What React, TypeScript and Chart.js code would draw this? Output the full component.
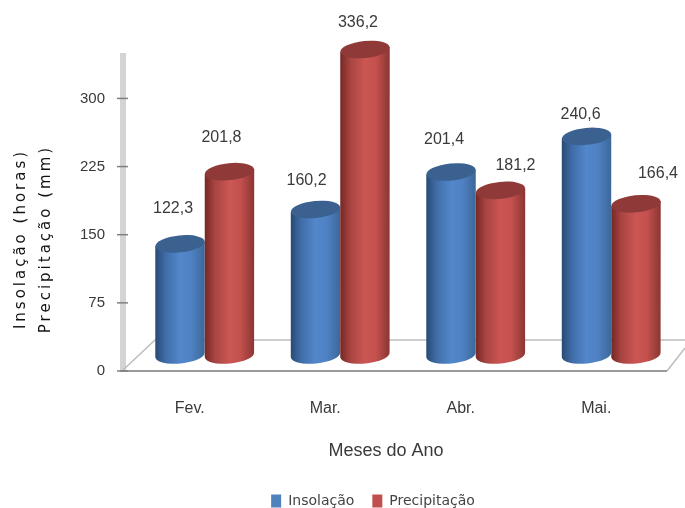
import React, { useEffect, useRef } from "react";
import { Chart, registerables } from "chart.js";

Chart.register(...registerables);

const months = ["Fev.", "Mar.", "Abr.", "Mai."];
const insolacao = [122.3, 160.2, 201.4, 240.6];
const precipitacao = [201.8, 336.2, 181.2, 166.4];
const yTicks = [0, 75, 150, 225, 300];
const yMax = 350;

// Hand-placed label nudges (dx, dy from the top of each cylinder).
const insolacaoNudge = [[-7, -35], [-9, -29], [-7, -32], [-6, -22]];
const precipitacaoNudge = [[-8, -34], [-7, -27], [15, -25], [22, -30]];

const depthX = 15;
const depthY = -16;
const capRy = 8.5;
const tilt = -0.1;

const palette = {
  blue: { stops: ["#274a73", "#3f6ca6", "#5287cb", "#4f82c4", "#3c6799"], cap: "#3b6191", flat: "#4f81bd" },
  red: { stops: ["#742825", "#a84441", "#cb5653", "#c4514e", "#8a3533"], cap: "#8f3a38", flat: "#c0504d" },
};

const fmt = (v: number) => v.toFixed(1).replace(".", ",");

// Floor, back wall and tick marks, then each bar element as a slanted cylinder.
const cylinders = {
  id: "cylinders",
  beforeDatasetsDraw(chart: any) {
    const { ctx, chartArea: a, scales } = chart;
    ctx.save();
    ctx.fillStyle = "#d4d4d4";
    ctx.fillRect(a.left - 2, a.top, 6, a.bottom - a.top);
    ctx.strokeStyle = "#bdbdbd";
    ctx.lineWidth = 1.5;
    ctx.beginPath();
    ctx.moveTo(a.left, a.bottom);
    ctx.lineTo(a.left + 33, a.bottom - 31);
    ctx.lineTo(a.right + 21, a.bottom - 31);
    ctx.moveTo(a.right + 3, a.bottom);
    ctx.lineTo(a.right + 21, a.bottom - 23);
    ctx.stroke();
    ctx.strokeStyle = "#9a9a9a";
    ctx.lineWidth = 2;
    ctx.beginPath();
    ctx.moveTo(a.left - 2, a.bottom);
    ctx.lineTo(a.right + 3, a.bottom);
    ctx.stroke();
    ctx.strokeStyle = "#808080";
    ctx.lineWidth = 1.5;
    yTicks.forEach((t) => {
      const py = scales.y.getPixelForValue(t);
      ctx.beginPath();
      ctx.moveTo(a.left - 5, py);
      ctx.lineTo(a.left + 6, py);
      ctx.stroke();
    });

    [palette.blue, palette.red].forEach((colors, d) => {
      chart.getDatasetMeta(d).data.forEach((bar: any) => {
        const { x, y, base, width } = bar.getProps(["x", "y", "base", "width"], true);
        const cx = x + depthX;
        const top = y + depthY;
        const bottom = base + depthY;
        const rx = width / 2;
        const s = rx * Math.sin(-tilt);
        const grad = ctx.createLinearGradient(cx - rx, 0, cx + rx, 0);
        [0, 0.2, 0.5, 0.72, 1].forEach((p, i) => grad.addColorStop(p, colors.stops[i]));
        ctx.beginPath();
        ctx.moveTo(cx - rx, top + s);
        ctx.lineTo(cx - rx, bottom + s);
        ctx.ellipse(cx, bottom, rx, capRy, tilt, Math.PI, 0, true);
        ctx.lineTo(cx + rx, top - s);
        ctx.closePath();
        ctx.fillStyle = grad;
        ctx.fill();
        ctx.beginPath();
        ctx.ellipse(cx, top, rx, capRy, tilt, 0, Math.PI * 2);
        ctx.fillStyle = colors.cap;
        ctx.fill();
      });
    });
    ctx.restore();
  },
  // The flat rectangles are replaced by the cylinders above.
  beforeDatasetDraw() {
    return false;
  },
};

// Value labels over the cylinders and the axis captions.
const annotations = {
  id: "annotations",
  afterDraw(chart: any) {
    const { ctx, chartArea: a } = chart;
    ctx.save();
    ctx.font = '16px "Liberation Sans"';
    ctx.fillStyle = "#3a3a3a";
    ctx.textAlign = "center";
    ctx.textBaseline = "middle";
    [insolacaoNudge, precipitacaoNudge].forEach((nudges, d) => {
      chart.getDatasetMeta(d).data.forEach((bar: any, i: number) => {
        const value = chart.data.datasets[d].data[i];
        ctx.fillText(fmt(value), bar.x + depthX + nudges[i][0], bar.y + depthY + nudges[i][1]);
      });
    });
    ctx.font = '18px "Liberation Sans"';
    ctx.fillText("Meses do Ano", a.left + 264, a.bottom + 80);

    ctx.fillStyle = "#111";
    ctx.font = '15px "DejaVu Sans"';
    (ctx as any).letterSpacing = "3px";
    [["Insolação (horas)", 21], ["Precipitação (mm)", 46]].forEach(([text, px]: any) => {
      ctx.save();
      ctx.translate(px, 239);
      ctx.rotate(-Math.PI / 2);
      ctx.fillText(text, 0, 0);
      ctx.restore();
    });
    ctx.restore();
  },
  beforeDraw(chart: any) {
    const legend = chart.legend;
    if (legend && !legend.$shifted) {
      legend.left += 41;
      legend.right += 41;
      legend.$shifted = true;
    }
  },
};

export default function App() {
  const ref = useRef<HTMLCanvasElement>(null);
  useEffect(() => {
    const chart = new Chart(ref.current!, {
      type: "bar",
      data: {
        labels: months,
        datasets: [
          { label: "Insolação", data: insolacao, backgroundColor: palette.blue.flat, barPercentage: 1, categoryPercentage: 0.73 },
          { label: "Precipitação", data: precipitacao, backgroundColor: palette.red.flat, barPercentage: 1, categoryPercentage: 0.73 },
        ],
      },
      plugins: [cylinders, annotations],
      options: {
        animation: false,
        responsive: false,
        layout: { padding: { top: 53, right: 21, left: 0, bottom: -10 } },
        plugins: {
          tooltip: { enabled: false },
          legend: {
            position: "bottom",
            labels: {
              padding: 18,
              boxWidth: 10,
              boxHeight: 13,
              color: "#444",
              font: { family: '"DejaVu Sans"', size: 14 },
            },
          },
        },
        scales: {
          x: {
            grid: { display: false },
            border: { display: false },
            ticks: { color: "#3a3a3a", padding: 20, maxRotation: 0, font: { family: '"Liberation Sans"', size: 16 } },
            afterFit: (s: any) => { s.height = 105; },
          },
          y: {
            min: 0,
            max: yMax,
            grid: { display: false },
            border: { display: false },
            afterBuildTicks: (s: any) => { s.ticks = yTicks.map((value) => ({ value })); },
            ticks: { color: "#3a3a3a", padding: 9, font: { family: '"Liberation Sans"', size: 15 } },
            afterFit: (s: any) => { s.width = 122; },
          },
        },
      },
    } as any);
    return () => chart.destroy();
  }, []);
  return (
    <div style={{ position: "absolute", left: 0, top: 0, width: 685, height: 508, background: "#fff" }}>
      <canvas ref={ref} width={685} height={508} style={{ display: "block" }} />
    </div>
  );
}
